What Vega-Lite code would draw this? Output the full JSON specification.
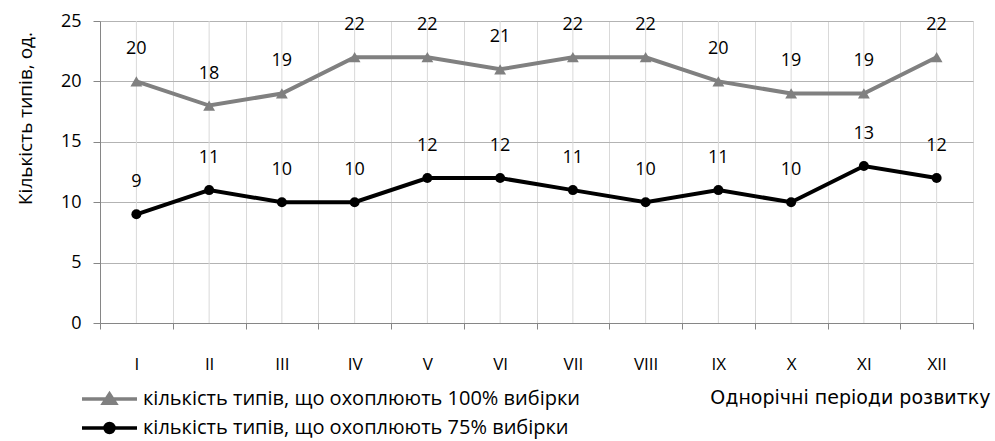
{
  "$schema": "https://vega.github.io/schema/vega-lite/v6.json",
  "width": 873,
  "height": 302,
  "autosize": {"type": "none"},
  "padding": {"left": 100, "top": 21, "right": 22, "bottom": 118},
  "background": "white",
  "config": {
    "view": {"stroke": null},
    "font": "Open Sans"
  },
  "data": {
    "values": [
      {"period": "I", "series": "кількість типів, що охоплюють 100% вибірки", "value": 20},
      {"period": "II", "series": "кількість типів, що охоплюють 100% вибірки", "value": 18},
      {"period": "III", "series": "кількість типів, що охоплюють 100% вибірки", "value": 19},
      {"period": "IV", "series": "кількість типів, що охоплюють 100% вибірки", "value": 22},
      {"period": "V", "series": "кількість типів, що охоплюють 100% вибірки", "value": 22},
      {"period": "VI", "series": "кількість типів, що охоплюють 100% вибірки", "value": 21},
      {"period": "VII", "series": "кількість типів, що охоплюють 100% вибірки", "value": 22},
      {"period": "VIII", "series": "кількість типів, що охоплюють 100% вибірки", "value": 22},
      {"period": "IX", "series": "кількість типів, що охоплюють 100% вибірки", "value": 20},
      {"period": "X", "series": "кількість типів, що охоплюють 100% вибірки", "value": 19},
      {"period": "XI", "series": "кількість типів, що охоплюють 100% вибірки", "value": 19},
      {"period": "XII", "series": "кількість типів, що охоплюють 100% вибірки", "value": 22},
      {"period": "I", "series": "кількість типів, що охоплюють 75% вибірки", "value": 9},
      {"period": "II", "series": "кількість типів, що охоплюють 75% вибірки", "value": 11},
      {"period": "III", "series": "кількість типів, що охоплюють 75% вибірки", "value": 10},
      {"period": "IV", "series": "кількість типів, що охоплюють 75% вибірки", "value": 10},
      {"period": "V", "series": "кількість типів, що охоплюють 75% вибірки", "value": 12},
      {"period": "VI", "series": "кількість типів, що охоплюють 75% вибірки", "value": 12},
      {"period": "VII", "series": "кількість типів, що охоплюють 75% вибірки", "value": 11},
      {"period": "VIII", "series": "кількість типів, що охоплюють 75% вибірки", "value": 10},
      {"period": "IX", "series": "кількість типів, що охоплюють 75% вибірки", "value": 11},
      {"period": "X", "series": "кількість типів, що охоплюють 75% вибірки", "value": 10},
      {"period": "XI", "series": "кількість типів, що охоплюють 75% вибірки", "value": 13},
      {"period": "XII", "series": "кількість типів, що охоплюють 75% вибірки", "value": 12}
    ]
  },
  "encoding": {
    "x": {
      "field": "period",
      "type": "nominal",
      "sort": ["I", "II", "III", "IV", "V", "VI", "VII", "VIII", "IX", "X", "XI", "XII"],
      "scale": {"type": "band", "paddingInner": 0, "paddingOuter": 0},
      "axis": {
        "title": "Однорічні періоди розвитку",
        "titleFont": "DejaVu Sans",
        "titleFontSize": 19,
        "titleFontWeight": "normal",
        "titleColor": "#000000",
        "titleX": 890,
        "titleY": 74,
        "titleAlign": "right",
        "titleBaseline": "middle",
        "titleAnchor": null,
        "labelAngle": 0,
        "labelFont": "Open Sans",
        "labelFontSize": 17,
        "labelColor": "#000000",
        "labelPadding": 27,
        "tickBand": "extent",
        "tickSize": 6,
        "tickColor": "#868686",
        "domainColor": "#868686",
        "grid": true,
        "gridColor": "#d9d9d9"
      }
    },
    "y": {
      "field": "value",
      "type": "quantitative",
      "scale": {"domain": [0, 25], "nice": false},
      "axis": {
        "title": "Кількість типів, од.",
        "titleFont": "Open Sans",
        "titleFontSize": 19,
        "titleFontWeight": "normal",
        "titleColor": "#000000",
        "titleAngle": -90,
        "titleX": -75,
        "titleY": 97,
        "titleAlign": "center",
        "titleBaseline": "middle",
        "values": [0, 5, 10, 15, 20, 25],
        "labelFont": "Open Sans",
        "labelFontSize": 18,
        "labelColor": "#000000",
        "labelPadding": 12,
        "tickSize": 7,
        "tickColor": "#868686",
        "domainColor": "#868686",
        "grid": true,
        "gridColor": "#b3b3b3"
      }
    }
  },
  "layer": [
    {
      "transform": [{"filter": "datum.series == 'кількість типів, що охоплюють 100% вибірки'"}],
      "mark": {"type": "rule", "color": "#d9d9d9", "strokeWidth": 1},
      "encoding": {
        "y": {"datum": 0},
        "y2": {"datum": 25}
      }
    },
    {
      "mark": {"type": "line", "strokeWidth": 4},
      "encoding": {
        "color": {
          "field": "series",
          "type": "nominal",
          "scale": {
            "domain": ["кількість типів, що охоплюють 100% вибірки", "кількість типів, що охоплюють 75% вибірки"],
            "range": ["#808080", "#000000"]
          },
          "legend": {
            "orient": "none",
            "legendX": 15,
            "legendY": 366,
            "title": null,
            "direction": "vertical",
            "symbolSize": 400,
            "symbolStrokeWidth": 3.5,
            "labelFont": "Open Sans",
            "labelFontSize": 20,
            "labelColor": "#000000",
            "labelOffset": 4,
            "labelLimit": 600,
            "rowPadding": 5,
            "encode": {
              "symbols": {
                "update": {
                  "shape": {"signal": "datum.index === 0 ? 'M-4.5,0L1,0M-1.75,-0.5L-1.15,0.42L-2.35,0.42Z' : 'M-4.5,0L1,0M-1.3,0A0.45,0.45,0,1,1,-2.2,0A0.45,0.45,0,1,1,-1.3,0Z'"},
                  "fill": {"signal": "datum.index === 0 ? '#808080' : '#000000'"},
                  "stroke": {"signal": "datum.index === 0 ? '#808080' : '#000000'"},
                  "opacity": {"value": 1},
                  "fillOpacity": {"value": 1}
                }
              }
            }
          }
        }
      }
    },
    {
      "transform": [{"filter": "datum.series == 'кількість типів, що охоплюють 100% вибірки'"}],
      "mark": {"type": "point", "filled": true, "opacity": 1, "shape": "triangle-up", "size": 140},
      "encoding": {
        "color": {"field": "series", "type": "nominal", "legend": null}
      }
    },
    {
      "transform": [{"filter": "datum.series == 'кількість типів, що охоплюють 75% вибірки'"}],
      "mark": {"type": "point", "filled": true, "opacity": 1, "shape": "circle", "size": 100},
      "encoding": {
        "color": {"field": "series", "type": "nominal", "legend": null}
      }
    },
    {
      "mark": {"type": "text", "dy": -32, "font": "Open Sans", "fontSize": 18, "color": "#000000", "baseline": "middle"},
      "encoding": {
        "text": {"field": "value", "type": "quantitative"}
      }
    }
  ]
}
